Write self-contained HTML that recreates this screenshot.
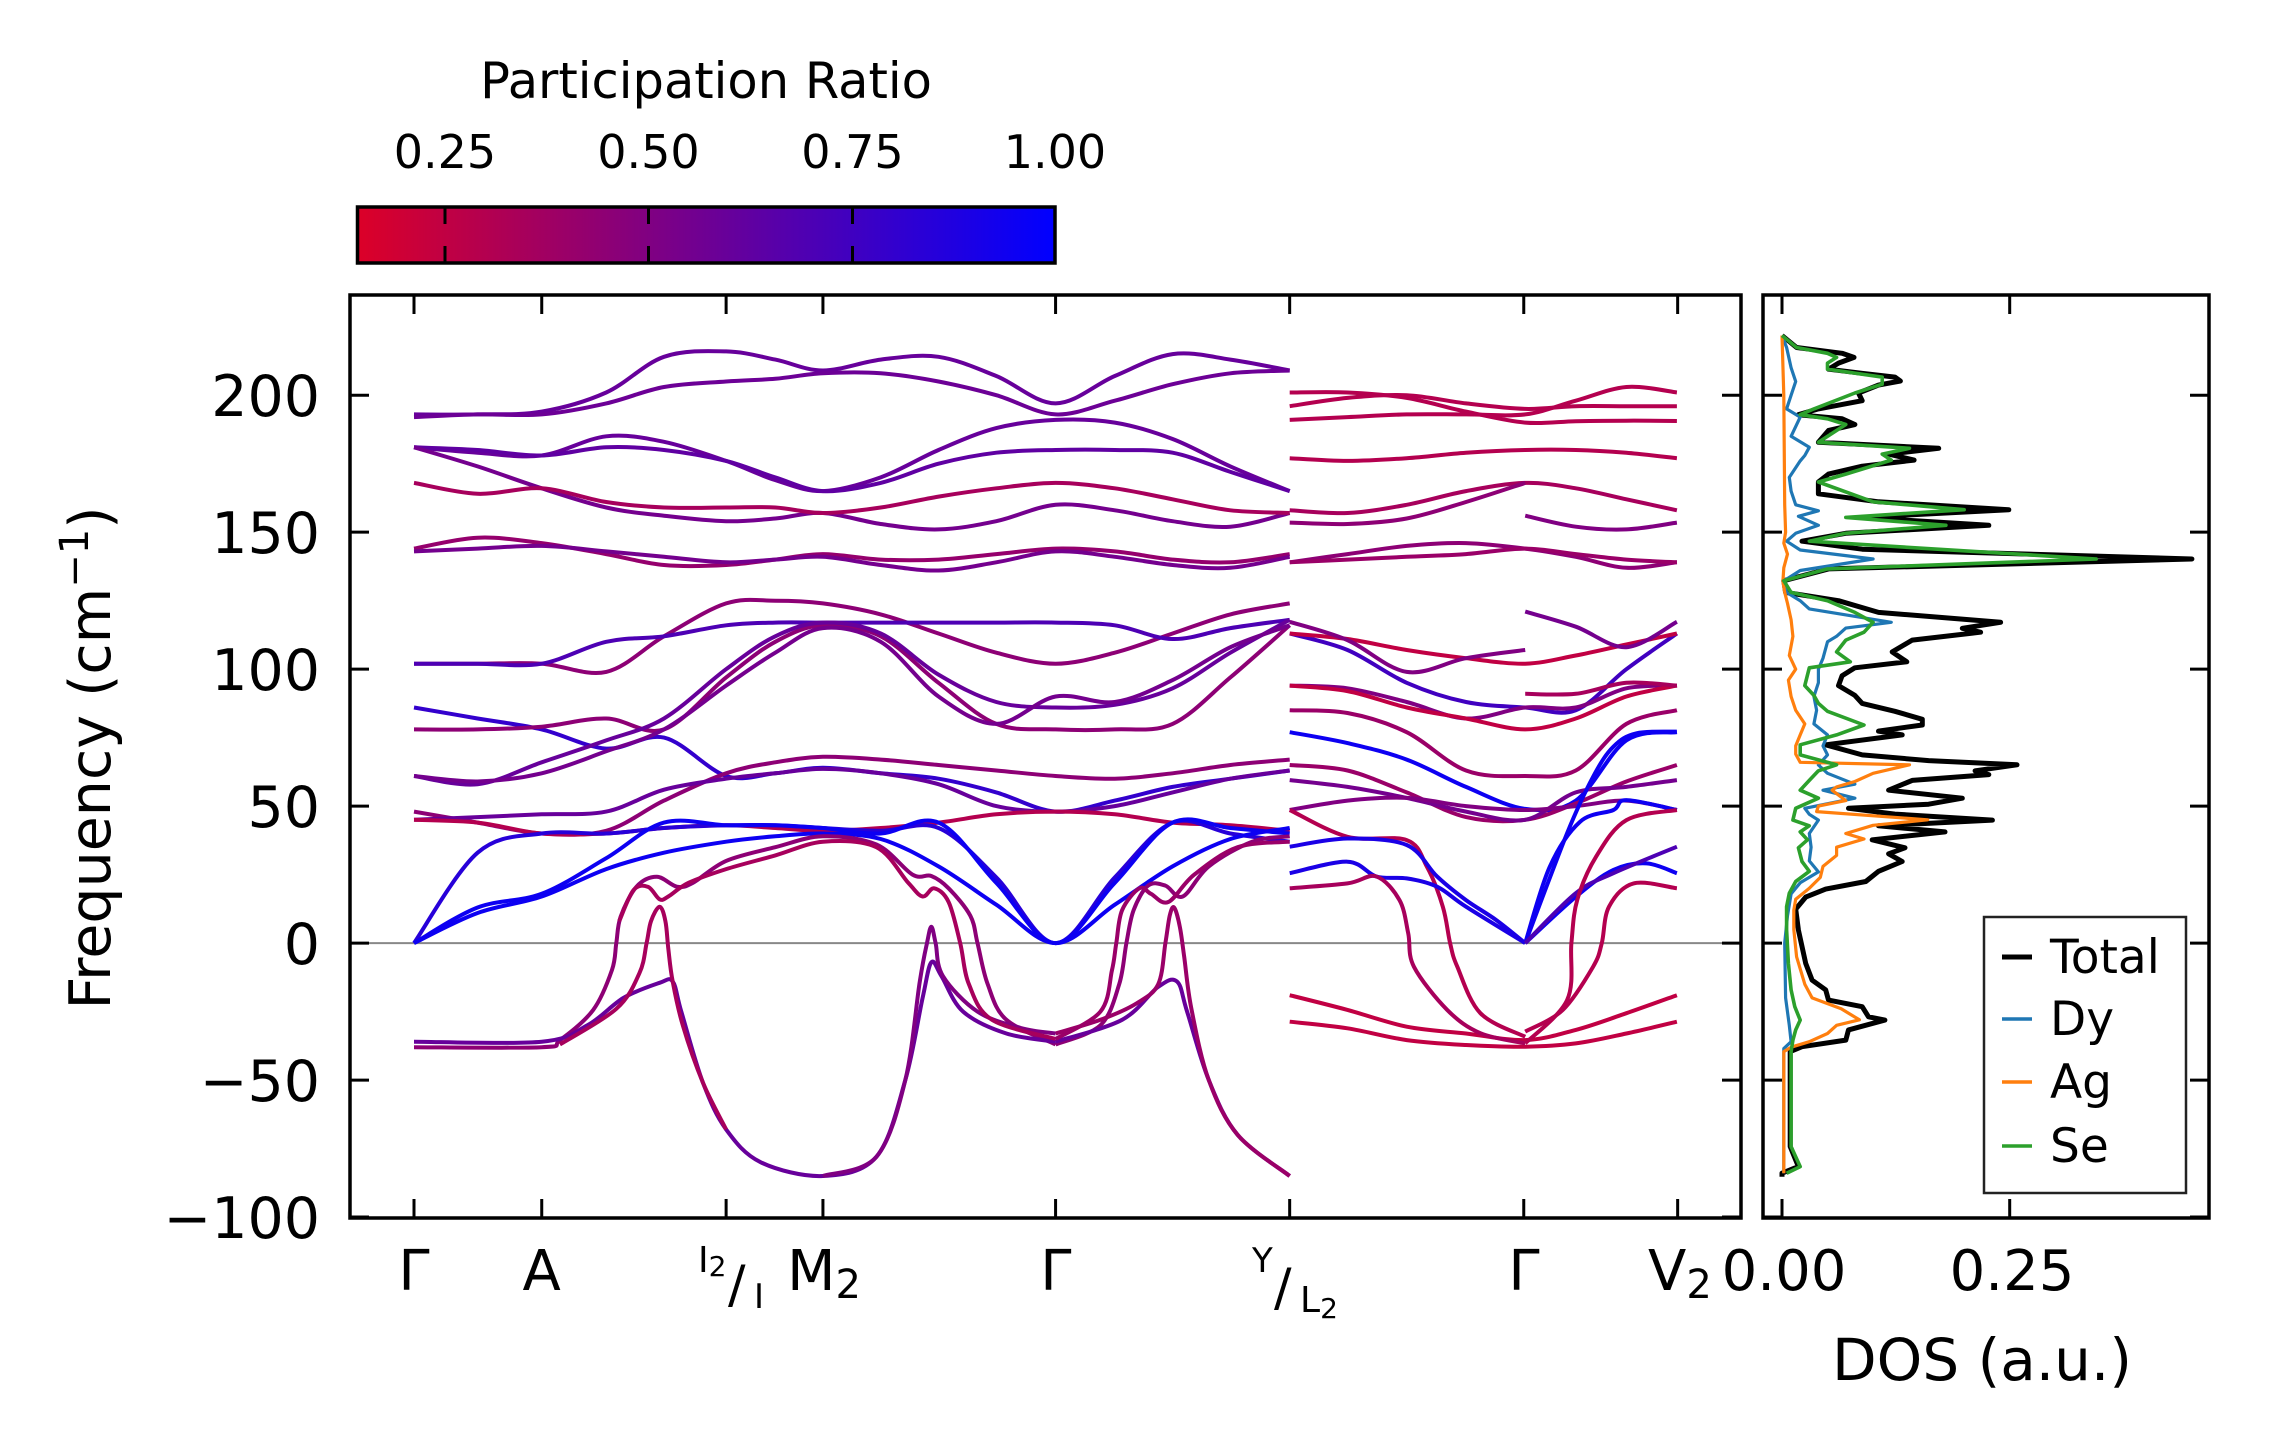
<!DOCTYPE html>
<html><head><meta charset="utf-8"><title>Phonon band structure and DOS</title>
<style>
html,body{margin:0;padding:0;background:#fff;}
svg{display:block;}
text{font-family:"DejaVu Sans","Liberation Sans",sans-serif;fill:#000;}
</style></head>
<body>
<svg id="fig" xmlns="http://www.w3.org/2000/svg" width="2271" height="1455" viewBox="0 0 2271 1455">
<defs>
<linearGradient id="cmap" x1="0" x2="1" y1="0" y2="0">
<stop offset="0" stop-color="rgb(220,0,40)"/>
<stop offset="1" stop-color="rgb(0,0,255)"/>
</linearGradient>
<clipPath id="mainclip"><rect x="350" y="295" width="1391" height="923"/></clipPath>
<clipPath id="dosclip"><rect x="1763" y="295" width="446" height="923"/></clipPath>
</defs>
<rect width="2271" height="1455" fill="#fff"/>

<g>
<text x="706" y="98" font-size="49.5" text-anchor="middle">Participation Ratio</text>
<text x="445" y="168" font-size="46" text-anchor="middle">0.25</text>
<text x="648.5" y="168" font-size="46" text-anchor="middle">0.50</text>
<text x="852.5" y="168" font-size="46" text-anchor="middle">0.75</text>
<text x="1055" y="168" font-size="46" text-anchor="middle">1.00</text>
<rect x="357.5" y="207" width="697.5" height="56" fill="url(#cmap)" stroke="#000" stroke-width="3.5"/>
<g stroke="#000" stroke-width="3">
<line x1="445" y1="207" x2="445" y2="224"/><line x1="445" y1="246" x2="445" y2="263"/>
<line x1="648.5" y1="207" x2="648.5" y2="224"/><line x1="648.5" y1="246" x2="648.5" y2="263"/>
<line x1="852.5" y1="207" x2="852.5" y2="224"/><line x1="852.5" y1="246" x2="852.5" y2="263"/>
</g>
</g>

<line x1="350" y1="943.1" x2="1741" y2="943.1" stroke="#888" stroke-width="2"/>
<g id="bands" clip-path="url(#mainclip)"></g>
<g id="dos" clip-path="url(#dosclip)"></g>

<rect x="350" y="295" width="1391" height="923" fill="none" stroke="#000" stroke-width="3.5"/>
<rect x="1763" y="295" width="446" height="923" fill="none" stroke="#000" stroke-width="3.5"/>
<g id="ticks" stroke="#000" stroke-width="3"></g>
<g id="labels"></g>

<g font-size="56">
<text x="414" y="1290" text-anchor="middle">Γ</text>
<text x="541.7" y="1290" text-anchor="middle">A</text>
<text x="698" y="1272" font-size="36">I<tspan font-size="28" dy="4">2</tspan></text>
<text x="728" y="1302" font-size="52">/</text>
<text x="754" y="1308" font-size="34">I</text>
<text x="824" y="1290" text-anchor="middle">M<tspan font-size="40" dy="8">2</tspan></text>
<text x="1055.8" y="1290" text-anchor="middle">Γ</text>
<text x="1252" y="1272" font-size="34">Y</text>
<text x="1274" y="1305" font-size="52">/</text>
<text x="1300" y="1312" font-size="36">L<tspan font-size="28" dy="6">2</tspan></text>
<text x="1524" y="1290" text-anchor="middle">Γ</text>
<text x="1648" y="1290">V<tspan font-size="40" dy="8">2</tspan></text>
<text x="1784" y="1290" text-anchor="middle">0.00</text>
<text x="2012" y="1290" text-anchor="middle">0.25</text>
</g>
<text x="1982" y="1380" font-size="58" text-anchor="middle">DOS (a.u.)</text>
<text transform="translate(110,758) rotate(-90)" font-size="57" text-anchor="middle">Frequency (cm<tspan font-size="40" dy="-22">−1</tspan><tspan dy="22">)</tspan></text>

<g>
<rect x="1984" y="917" width="202" height="276" fill="#fff" stroke="#222" stroke-width="2.5"/>
<g><line x1="2002" y1="957" x2="2032" y2="957" stroke="#000" stroke-width="5"/><text x="2050" y="973" font-size="47">Total</text></g>
<g><line x1="2002" y1="1019" x2="2032" y2="1019" stroke="#1f77b4" stroke-width="3.5"/><text x="2050" y="1035" font-size="47">Dy</text></g>
<g><line x1="2002" y1="1082" x2="2032" y2="1082" stroke="#ff7f0e" stroke-width="3.5"/><text x="2050" y="1098" font-size="47">Ag</text></g>
<g><line x1="2002" y1="1146" x2="2032" y2="1146" stroke="#2ca02c" stroke-width="3.5"/><text x="2050" y="1162" font-size="47">Se</text></g>
</g>
</svg>

<script>
const kTicks = [0, 0.884, 2.16, 2.83, 4.44, 6.06, 7.68, 8.745];
const yTickValues = [-100, -50, 0, 50, 100, 150, 200];
const yTickLabels = ["−100", "−50", "0", "50", "100", "150", "200"];
const dosTickValues = [0, 0.25];

const kGrid1 = [0,0.44,0.884,1.33,1.73,2.16,2.5,2.83,3.23,3.63,4.03,4.44,4.85,5.25,5.65,6.06];
const bandsSeg1 = [
 [193,193,194,201,214,216,213,209,213,214,207,197,207,215,213,209],
 [192,193,193,197,203,205,206,208,208,205,200,193,198,204,208,209],
 [181,179,178,185,183,176,169,165,170,180,188,191,190,184,174,165],
 [181,180,178,181,180,176,170,165,168,175,179,180,180,179,172,165],
 [181,174,166,159,156,154,155,157,153,151,154,160,158,154,152,157],
 [168,164,166,161,159,159,159,157,159,163,166,168,166,162,158,157],
 [144,148,146,142,138,138,140,142,140,140,142,144,143,140,139,142],
 [143,144,145,143,141,139,140,141,138,136,139,143,141,138,137,141],
 [102,102,102,99,112,124,125,124,120,113,106,102,106,113,120,124],
 [102,102,102,110,112,116,117,117,117,117,117,117,116,111,115,118],
 [86,82,78,71,75,61,62,64,62,60,55,48,52,57,60,63],
 [78,78,79,82,78,97,110,116,112,95,80,78,78,80,97,116],
 [61,58,66,74,82,100,112,117,113,98,88,86,87,93,106,118],
 [61,59,62,70,78,94,106,115,110,90,80,90,88,96,108,116],
 [48,44,40,41,52,62,66,68,67,65,63,61,60,62,65,67],
 [45,46,47,48,56,60,62,63.6,62,58,50,48,50,55,60,63],
 [45,44,40,40,42,43,42,41,42,44,47,48,47,44,43,41],
 [0,33,40,40,42,43,43,42,41,42,24,0,24,44,40,37],
 [0,13,18,31,44,43,43,42,40,44,22,0,22,44,42,40],
 [0,11,17,27,33,37,39,40,38,28,14,0,14,28,38,42]
];
const prSeg1 = [0.6,0.58,0.6,0.63,0.55,0.35,0.42,0.55,0.45,0.7,0.8,0.45,0.6,0.55,0.45,0.6,0.3,0.85,0.95,0.95];

const kGrid2 = [6.06,6.46,6.87,7.28,7.69,8.04,8.39,8.74];
const bandsSeg2 = [
 [201,201,199,194,190,190.5,190.7,190.6],
 [196,199,200,197,195,196,196,196],
 [191,192,193,193,193,198,203,201],
 [177,176,177,179,180,180,179,177],
 [158,157,160,165,168,166,162,158],
 [139,142,145,146,144,141,137,139],
 [139,140,141,142,144,142,140,139],
 [113,107,95,88,86,85,100,113],
 [113,111,107,104,102,105,109,113],
 [94,93,88,82,86,86,93,94],
 [94,92,86,82,78,82,90,94],
 [85,84,77,63,61,63,80,85],
 [77,73,67,57,49,52,74,77],
 [65,63,55,46,45,51,59,65],
 [59.5,57,53,48,45,55,57,59.5],
 [48.6,52,53,50,48.6,50,52,48.6],
 [-19,-24.4,-30.5,-33,-35.4,-31.7,-25.6,-19],
 [-28.7,-31.1,-35.4,-37.2,-37.8,-36.6,-33,-28.7]
];
const prSeg2 = [0.3,0.3,0.3,0.3,0.35,0.45,0.4,0.75,0.25,0.5,0.25,0.4,0.95,0.4,0.55,0.5,0.25,0.25];

const curveK = [
 [0,0.884,1.01,1.24,1.37,1.40,1.43,1.54,1.68,1.82,1.93,2.16,2.5,2.83,3.2,3.45,3.58,3.70,3.85,3.90,3.97,4.1,4.44],
 [4.44,4.75,4.88,4.93,4.98,5.08,5.2,5.32,5.5,5.8,6.06],
 [0,0.884,1.2,1.45,1.7,1.79,1.85,2.0,2.16,2.4,2.83,3.2,3.4,3.52,3.58,3.65,3.8,4.1,4.44],
 [4.44,4.9,5.15,5.28,5.35,5.5,5.7,6.06],
 [1.01,1.40,1.56,1.61,1.64,1.70,1.74,1.76,1.79,1.86,2.0,2.16],
 [2.83,3.2,3.4,3.5,3.55,3.58,3.61,3.66,3.9,4.2,4.44],
 [4.44,4.75,5.0,5.15,5.2,5.23,5.26,5.3,5.33,5.38,5.5,5.7,6.06],
 [1.42,1.52,1.62,1.70,1.76,1.9,2.16,2.5,2.83,3.2,3.42,3.52,3.6,3.7,3.78,3.84,4.0,4.44],
 [4.44,4.75,4.83,4.86,4.9,5.02,5.1,5.22,5.4,5.7,6.06],
 [6.06,6.46,6.87,7.28,7.69],
 [7.69,8.04,8.39,8.74],
 [7.69,8.04,8.39,8.74],
 [6.06,6.46,6.87,7.28,7.69],
 [7.69,8.04,8.39,8.74],
 [6.06,6.46,6.87,7.01,7.12,7.17,7.22,7.38,7.69],
 [6.06,6.46,6.87,7.08,7.28,7.49,7.69],
 [6.06,6.46,6.66,6.87,7.08,7.28,7.69],
 [6.06,6.46,6.66,6.82,6.88,6.92,7.15,7.38,7.69],
 [7.69,7.86,8.07,8.30,8.39,8.74],
 [7.69,7.98,8.16,8.30,8.46,8.74],
 [7.69,8.04,8.30,8.53,8.74],
 [7.69,8.04,8.30,8.74],
 [7.69,7.95,8.16,8.22,8.27,8.44,8.74],
 [7.69,7.98,8.01,8.05,8.18,8.39,8.74]
];
const curveF = [
 [-38,-38,-35.4,-24.4,-9.8,0,9.6,20.6,24.2,20.6,22,30,35,39,36,25,24.5,20,10,0,-15,-28,-37],
 [-37,-30,-15,0,12,21,21,17,28,37,39],
 [-36,-36,-30,-20,-14.5,-14,-25,-51,-68,-80,-85,-78,-50,-20,-7,-12,-25,-33,-36],
 [-36,-28,-16,-14,-25,-50,-70,-85],
 [-37,-24,-11,0,8,13.3,8,-2,-14,-30,-51,-68],
 [-85,-78,-50,-14,0,6,0,-12,-25,-31,-33],
 [-33,-28,-22,-15,0,10,13,6,-5,-24,-50,-70,-85],
 [8,19.4,20.5,16,17,22,27,32,37,35,22,17,20,15,0,-15,-28,-35],
 [-35,-25,-10,0,12,20,18,15,25,35,37],
 [117.3,110.6,99,104,107],
 [121,115.5,108,117.3],
 [91,91,95,94],
 [153.5,153,155,161,168],
 [156,152,151,153.5],
 [48.6,38.8,37.6,27.9,13.3,0,-8.6,-25.6,-34.2],
 [35.2,38.2,35.8,24.3,15.7,8.4,0],
 [25.5,29.7,24.3,23.6,20.6,13.3,0],
 [20,21.8,24.3,15.7,3.6,-8.6,-24.4,-32.9,-36.6],
 [0,27.9,44.3,48.6,52.2,48.6],
 [0,40.1,60.7,71.7,76.6,77.2],
 [0,16.9,26.7,29.1,25.5],
 [0,18.2,25.5,35.2],
 [-32.3,-24.4,-8.6,0,13.3,21.8,20],
 [-36.6,-20.8,0,15.7,31.5,44.9,48.6]
];
const curvePR = [0.45,0.45,0.6,0.6,0.35,0.5,0.4,0.35,0.4,0.5,0.55,0.35,0.45,0.5,0.3,0.9,0.9,0.35,0.95,0.95,0.95,0.7,0.3,0.3];

const totF = [221.8,217.4,215.3,213.8,211.7,209.5,208,206.6,205.2,203.7,200.8,198,195,192.9,191.4,189.3,187.1,182.8,180.6,178.5,176.3,174.1,171.2,168.3,164,161.1,158.2,155.4,152.5,149.6,146.7,143.8,140.2,136.6,132.3,128,125,120.7,117.1,114.9,113.5,110.6,106.3,102.7,100.5,97.6,94,90.4,87.5,84.6,81.7,79.6,77.4,76,72.4,68.7,66.6,65.1,62.9,61.5,59.4,55.8,52.9,50.7,49.2,47.1,44.9,42.8,40.6,37.7,34.8,32.6,29.8,26.2,22.5,19.7,16.8,12.4,4.8,-7.4,-13.5,-17.1,-20.8,-23.2,-26.9,-28.1,-31.7,-35.4,-37.8,-39.6,-50,-74.3,-81.6,-84,-85.3];
const totV = [0,.016,.066,.079,.062,.051,.088,.124,.13,.106,.084,.088,.04,.018,.066,.08,.051,.04,.172,.117,.145,.088,.051,.04,.04,.106,.249,.088,.227,.07,.022,.088,.45,.051,.002,.004,.062,.106,.24,.198,.218,.143,.121,.137,.08,.066,.062,.08,.088,.124,.154,.154,.106,.132,.048,.088,.161,.258,.212,.227,.143,.117,.198,.161,.073,.124,.231,.106,.179,.099,.135,.117,.132,.106,.092,.048,.026,.015,.018,.026,.033,.048,.051,.088,.095,.113,.073,.07,.022,.009,.009,.009,.018,0,0];
const seF = [221.8,217.4,215.3,213.8,211.7,209.5,206.6,204,200.8,195,192.9,191.4,189.3,182.8,180.6,178.5,176.3,171.2,168.3,161.1,158.2,155.4,152.5,149.6,146.7,140.2,136.6,132.3,128,125,120.7,117.1,113.5,110.6,106.3,102.7,100.5,94,90.4,87.5,84.6,79.6,76,72.4,68.7,65.1,62.9,59.4,55.8,52.9,49.2,44.9,42.8,40.6,37.7,34.8,29.8,26.2,22.5,18.2,13.3,4.8,-7.4,-17.1,-23.2,-28.1,-31.7,-35.4,-39.6,-50,-74.3,-81.6,-84];
const seV = [0,.016,.05,.06,.05,.05,.11,.11,.08,.035,.02,.05,.07,.04,.14,.11,.12,.07,.04,.1,.2,.07,.18,.07,.03,.345,.05,.002,.01,.05,.08,.1,.09,.07,.06,.075,.03,.025,.035,.04,.05,.09,.06,.02,.02,.06,.04,.03,.02,.04,.015,.012,.03,.02,.028,.018,.022,.03,.015,.008,.005,.005,.007,.01,.014,.02,.015,.012,.01,.01,.01,.02,.005];
const dyF = [221.8,217.4,210,205,200,195,192,185,181,178,176,170,165,160,157.8,155.8,152.5,149.6,146.7,143.5,140.2,136,132,128,125,122,117.1,115,112,110,104,100,95,90,85,80,76,72,68.7,65,62,58,55.8,52.9,49.2,47,44.9,40,35,30,26,22,18,10,0,-20,-30,-36,-38.5,-50,-84];
const dyV = [0,.005,.01,.015,.01,.005,.02,.01,.03,.025,.02,.008,.01,.015,.04,.018,.04,.015,.005,.02,.1,.02,.001,.005,.02,.03,.12,.07,.06,.05,.045,.04,.04,.035,.038,.035,.05,.045,.05,.04,.05,.08,.045,.08,.025,.03,.04,.03,.032,.03,.04,.02,.01,.006,.003,.004,.008,.01,.002,.002,.002];
const agF = [221.8,200,160,150,146,142,137,132,128,124,118,112,105,100,96,90,85,80,76,72,69,66,65.1,62,59,57,55.8,52,50,48,45,43,40,38,35,32,28,24,20,16,12,5,-5,-15,-20,-24,-28,-30,-33,-36,-38,-39.6,-84];
const agV = [0,.002,.003,.004,.002,.006,.002,.001,.003,.006,.01,.012,.008,.015,.007,.01,.015,.025,.02,.015,.015,.02,.14,.1,.08,.06,.055,.07,.04,.038,.16,.1,.07,.09,.06,.06,.045,.042,.03,.015,.013,.013,.016,.025,.033,.065,.085,.06,.05,.03,.01,.002,.002];

const NS = "http://www.w3.org/2000/svg";
function xK(k){ return 414 + k*144.5; }
function yF(f){ return 943.1 - f*2.7395; }
function xD(v){ return 1782 + v*910.8; }
function prColor(p){
  let t = (p-0.143)/0.857; t = Math.max(0, Math.min(1, t));
  return `rgb(${Math.round(220*(1-t))},0,${Math.round(40+215*t)})`;
}
function smoothPath(pts){
  let d = `M${pts[0][0].toFixed(1)},${pts[0][1].toFixed(1)}`;
  for(let i=0;i<pts.length-1;i++){
    const p0 = pts[i-1]||pts[i], p1 = pts[i], p2 = pts[i+1], p3 = pts[i+2]||pts[i+1];
    const c1x = p1[0]+(p2[0]-p0[0])/6, c1y = p1[1]+(p2[1]-p0[1])/6;
    const c2x = p2[0]-(p3[0]-p1[0])/6, c2y = p2[1]-(p3[1]-p1[1])/6;
    d += ` C${c1x.toFixed(1)},${c1y.toFixed(1)} ${c2x.toFixed(1)},${c2y.toFixed(1)} ${p2[0].toFixed(1)},${p2[1].toFixed(1)}`;
  }
  return d;
}
const bandsG = document.getElementById('bands');
function addBand(ks, fs, pr, name){
  const p = document.createElementNS(NS,'path');
  p.setAttribute('d', smoothPath(ks.map((k,i)=>[xK(k), yF(fs[i])])));
  p.setAttribute('fill','none');
  p.setAttribute('stroke', prColor(pr));
  p.setAttribute('stroke-width','4');
  p.setAttribute('stroke-linejoin','round');
  
  
  bandsG.appendChild(p);
}
bandsSeg1.forEach((b,i)=>addBand(kGrid1, b, prSeg1[i], 'phonon-band'));
bandsSeg2.forEach((b,i)=>addBand(kGrid2, b, prSeg2[i], 'phonon-band'));
curveK.forEach((ks,i)=>addBand(ks, curveF[i], curvePR[i], 'phonon-band'));

const dosG = document.getElementById('dos');
function addDos(fs, vs, color, w, name){
  const p = document.createElementNS(NS,'polyline');
  p.setAttribute('points', fs.map((f,i)=>`${xD(vs[i]).toFixed(1)},${yF(f).toFixed(1)}`).join(' '));
  p.setAttribute('fill','none');
  p.setAttribute('stroke', color);
  p.setAttribute('stroke-width', w);
  p.setAttribute('stroke-linejoin','round');
  
  
  dosG.appendChild(p);
}
addDos(totF, totV, '#000', 5, 'dos-total-line');
addDos(dyF, dyV, '#1f77b4', 3.2, 'dos-dy-line');
addDos(agF, agV, '#ff7f0e', 3.2, 'dos-ag-line');
addDos(seF, seV, '#2ca02c', 3.6, 'dos-se-line');

const tG = document.getElementById('ticks');
function tick(x1,y1,x2,y2,name){
  const l = document.createElementNS(NS,'line');
  l.setAttribute('x1',x1); l.setAttribute('y1',y1); l.setAttribute('x2',x2); l.setAttribute('y2',y2);
  
  
  tG.appendChild(l);
}
const TL = 19;
kTicks.forEach(k=>{ const x=xK(k); tick(x,295,x,295+TL,'x-tick'); tick(x,1218,x,1218-TL,'x-tick'); });
yTickValues.forEach(v=>{ const y=yF(v);
  tick(350,y,350+TL,y,'y-tick'); tick(1741,y,1741-TL,y,'y-tick');
  tick(1763,y,1763+TL,y,'dos-y-tick'); tick(2209,y,2209-TL,y,'dos-y-tick'); });
dosTickValues.forEach(v=>{ const x=xD(v); tick(x,295,x,295+TL,'dos-x-tick'); tick(x,1218,x,1218-TL,'dos-x-tick'); });

const lG = document.getElementById('labels');
yTickValues.forEach((v,i)=>{
  const t = document.createElementNS(NS,'text');
  t.setAttribute('x', 320); t.setAttribute('y', (yF(v)+21).toFixed(1));
  t.setAttribute('font-size','57'); t.setAttribute('text-anchor','end');
  t.textContent = yTickLabels[i];
  
  
  lG.appendChild(t);
});
</script>
</body></html>
